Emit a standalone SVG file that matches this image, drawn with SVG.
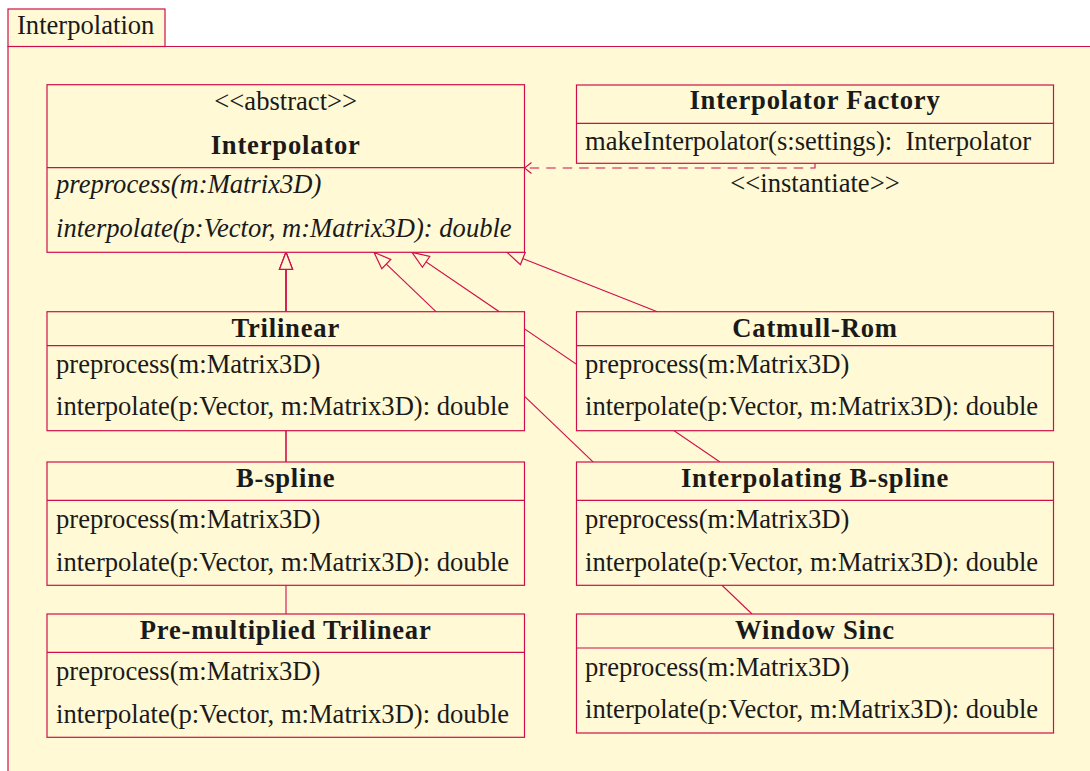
<svg xmlns="http://www.w3.org/2000/svg" width="1090" height="771" viewBox="0 0 1090 771">
  <style>
    .box { fill: #FFF9D6; stroke: #CF0F4B; stroke-width: 1.2; }
    .sep { stroke: #CF0F4B; stroke-width: 1.2; fill: none; }
    .edge { stroke: #CF0F4B; stroke-width: 1.1; fill: none; }
    .dep { stroke: #CF0F4B; stroke-width: 1.1; fill: none; stroke-dasharray: 9.5 7; }
    text { font-family: "Liberation Serif", "Times New Roman", serif; font-size: 26.6px; fill: #1a1a1a; }
    .title { font-weight: bold; text-anchor: middle; letter-spacing: 0.8px; }
    .stereo { text-anchor: middle; }
    .abs { font-style: italic; }
    .pre { white-space: pre; }
  </style>
  <defs>
    <!-- hollow triangle for generalization -->
    <marker id="gen" markerUnits="userSpaceOnUse" viewBox="-19 -9 21 18" refX="0" refY="0" markerWidth="21" markerHeight="18" orient="auto">
      <path d="M0,0 L-17,-6.5 L-17,6.5 Z" fill="#FFF9D6" stroke="#CF0F4B" stroke-width="1.2"/>
    </marker>
    <!-- open arrow for dependency -->
    <marker id="open" markerUnits="userSpaceOnUse" viewBox="-9 -7 11 14" refX="0" refY="0" markerWidth="11" markerHeight="14" orient="auto">
      <path d="M-7,-5.5 L0,0 L-7,5.5" fill="none" stroke="#CF0F4B" stroke-width="1.1"/>
    </marker>
  </defs>

  <!-- package frame -->
  <g id="package">
    <rect x="8" y="46.5" width="1090" height="740" fill="#FFF9D6"/>
    <path d="M1090,46.5 H8 V771" class="sep"/>
    <rect x="8" y="9" width="157" height="37.5" class="box"/>
    <text x="17" y="33.5">Interpolation</text>
  </g>

  <!-- connectors -->
  <g id="connectors">
    <line x1="286" y1="614" x2="286" y2="252.3" class="edge" marker-end="url(#gen)"/>
    <line x1="286" y1="462" x2="286" y2="252.3" class="edge" marker-end="url(#gen)"/>
    <line x1="286" y1="312" x2="286" y2="252.3" class="edge" marker-end="url(#gen)"/>
    <line x1="658" y1="312" x2="507" y2="252.3" class="edge" marker-end="url(#gen)"/>
    <line x1="720" y1="462" x2="412" y2="252.3" class="edge" marker-end="url(#gen)"/>
    <line x1="752" y1="614" x2="374" y2="252.3" class="edge" marker-end="url(#gen)"/>
    <path d="M815,163.3 V168 H524.5" class="dep" marker-end="url(#open)"/>
    <text x="815" y="192" class="stereo">&lt;&lt;instantiate&gt;&gt;</text>
  </g>

  <!-- abstract base class -->
  <g id="interpolator">
    <rect x="47" y="84.7" width="477.5" height="167.6" class="box"/>
    <line x1="47" y1="167.7" x2="524.5" y2="167.7" class="sep"/>
    <text x="285.7" y="110" class="stereo">&lt;&lt;abstract&gt;&gt;</text>
    <text x="285.7" y="154" class="title">Interpolator</text>
    <text x="56" y="193" class="abs">preprocess(m:Matrix3D)</text>
    <text x="56" y="236.7" class="abs">interpolate(p:Vector, m:Matrix3D): double</text>
  </g>

  <g id="factory">
    <rect x="576.5" y="85" width="477" height="78.3" class="box"/>
    <line x1="576.5" y1="123.3" x2="1053.5" y2="123.3" class="sep"/>
    <text x="815" y="109.3" class="title">Interpolator Factory</text>
    <text x="585" y="150" class="pre">makeInterpolator(s:settings):  Interpolator</text>
  </g>

  <g id="trilinear">
    <rect x="47" y="311.7" width="477.5" height="119" class="box"/>
    <line x1="47" y1="345.7" x2="524.5" y2="345.7" class="sep"/>
    <text x="285.7" y="336.7" class="title">Trilinear</text>
    <text x="56" y="373.3">preprocess(m:Matrix3D)</text>
    <text x="56" y="415">interpolate(p:Vector, m:Matrix3D): double</text>
  </g>

  <g id="catmull-rom">
    <rect x="576.5" y="311.7" width="477" height="119" class="box"/>
    <line x1="576.5" y1="345.7" x2="1053.5" y2="345.7" class="sep"/>
    <text x="815" y="336.7" class="title">Catmull-Rom</text>
    <text x="585" y="373.3">preprocess(m:Matrix3D)</text>
    <text x="585" y="415">interpolate(p:Vector, m:Matrix3D): double</text>
  </g>

  <g id="b-spline">
    <rect x="47" y="462" width="477.5" height="123.3" class="box"/>
    <line x1="47" y1="500.3" x2="524.5" y2="500.3" class="sep"/>
    <text x="285.7" y="487" class="title">B-spline</text>
    <text x="56" y="528">preprocess(m:Matrix3D)</text>
    <text x="56" y="570.7">interpolate(p:Vector, m:Matrix3D): double</text>
  </g>

  <g id="interpolating-b-spline">
    <rect x="576.5" y="462" width="477" height="123.3" class="box"/>
    <line x1="576.5" y1="500.3" x2="1053.5" y2="500.3" class="sep"/>
    <text x="815" y="487" class="title">Interpolating B-spline</text>
    <text x="585" y="528">preprocess(m:Matrix3D)</text>
    <text x="585" y="570.7">interpolate(p:Vector, m:Matrix3D): double</text>
  </g>

  <g id="premultiplied-trilinear">
    <rect x="47" y="614" width="477.5" height="123.3" class="box"/>
    <line x1="47" y1="652.3" x2="524.5" y2="652.3" class="sep"/>
    <text x="285.7" y="639" class="title">Pre-multiplied Trilinear</text>
    <text x="56" y="680">preprocess(m:Matrix3D)</text>
    <text x="56" y="722.7">interpolate(p:Vector, m:Matrix3D): double</text>
  </g>

  <g id="window-sinc">
    <rect x="576.5" y="614" width="477" height="119" class="box"/>
    <line x1="576.5" y1="648" x2="1053.5" y2="648" class="sep"/>
    <text x="815" y="639" class="title">Window Sinc</text>
    <text x="585" y="675.6">preprocess(m:Matrix3D)</text>
    <text x="585" y="718.3">interpolate(p:Vector, m:Matrix3D): double</text>
  </g>
</svg>
